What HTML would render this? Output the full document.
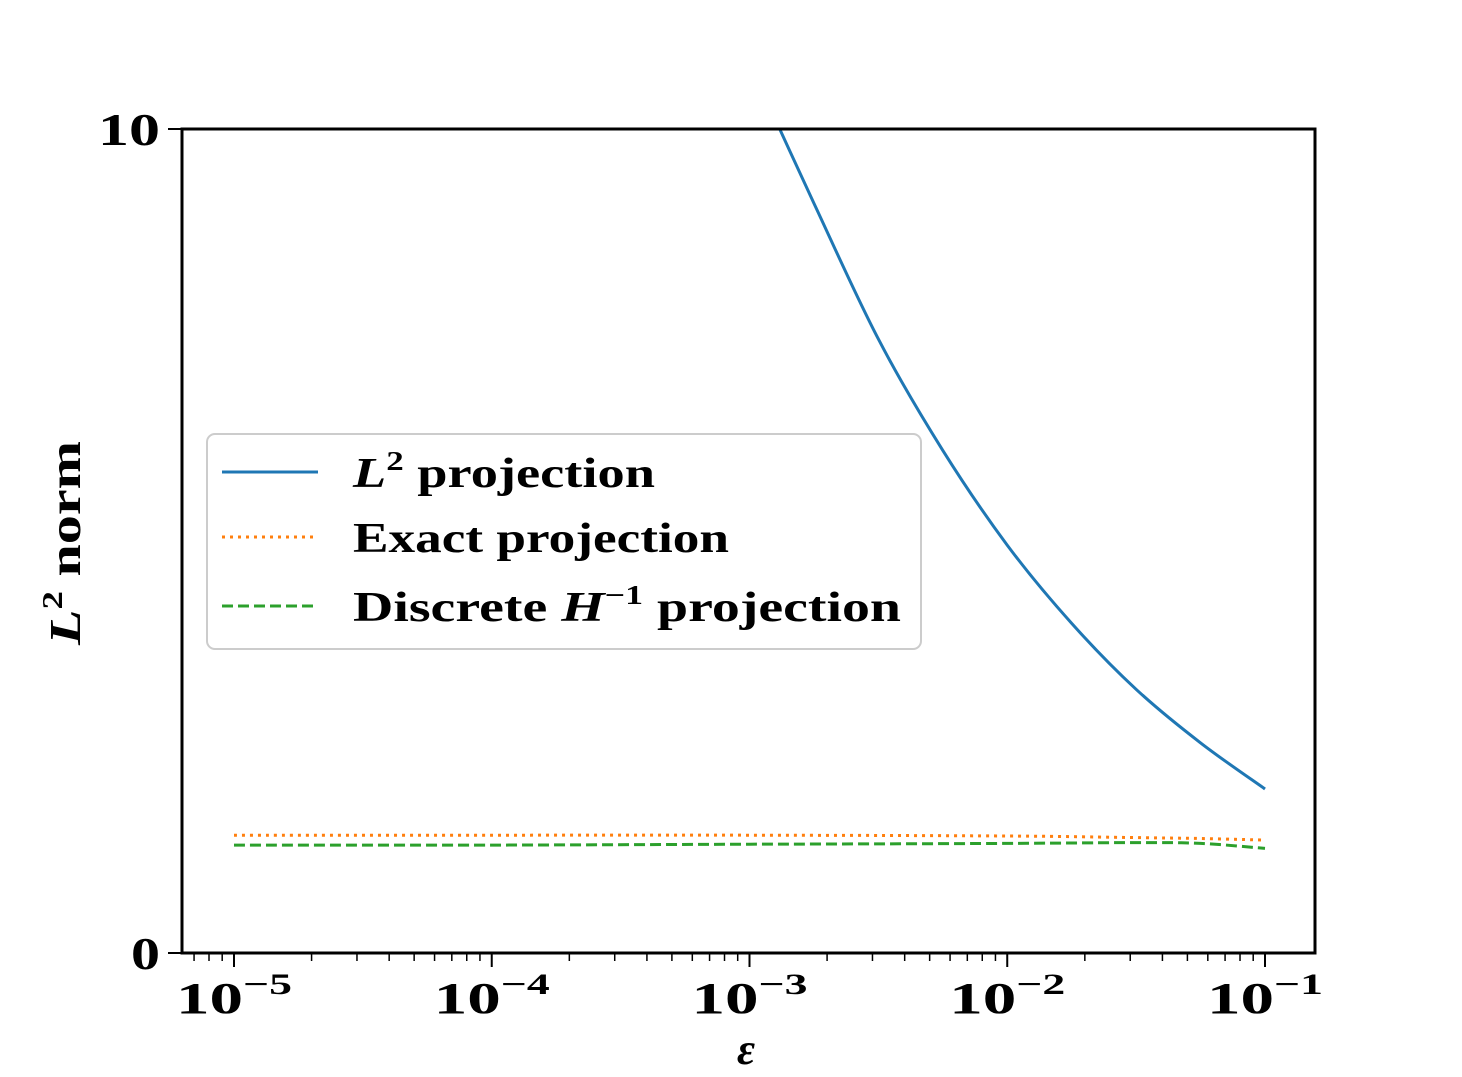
<!DOCTYPE html>
<html><head><meta charset="utf-8"><style>
html,body{margin:0;padding:0;background:#fff;}
svg text{font-family:"Liberation Serif",serif;font-weight:bold;fill:#000;}
</style></head><body>
<svg id="chart" width="1462" height="1072" xmlns="http://www.w3.org/2000/svg">
<defs><clipPath id="plotclip"><rect x="182" y="129" width="1133" height="824"/></clipPath></defs>
<rect x="0" y="0" width="1462" height="1072" fill="#fff"/>
<g id="series" clip-path="url(#plotclip)"></g>
<g id="ticks"></g>
<rect x="182" y="129" width="1133" height="824" fill="none" stroke="#000" stroke-width="3"/>
<text transform="translate(80,543) rotate(-90)" text-anchor="middle" font-size="44" textLength="204" lengthAdjust="spacingAndGlyphs"><tspan font-style="italic">L</tspan><tspan font-size="28" dy="-18">2</tspan><tspan dy="18"> norm</tspan></text>
<text x="746" y="1064" text-anchor="middle" font-size="44" font-style="italic">ε</text>
<g>
<rect x="207" y="434" width="714" height="215" rx="8" fill="#fff" fill-opacity="0.8" stroke="#ccc" stroke-width="2"/>
<line x1="222" y1="472" x2="318" y2="472" stroke="#1f77b4" stroke-width="3"/>
<text x="353" y="487" font-size="42" textLength="302" lengthAdjust="spacingAndGlyphs"><tspan font-style="italic">L</tspan><tspan font-size="27" dy="-17">2</tspan><tspan dy="17"> projection</tspan></text>
<line x1="222" y1="537" x2="318" y2="537" stroke="#ff7f0e" stroke-width="3" stroke-dasharray="3,5"/>
<text x="353" y="552" font-size="42" textLength="376" lengthAdjust="spacingAndGlyphs">Exact projection</text>
<line x1="222" y1="606" x2="318" y2="606" stroke="#2ca02c" stroke-width="3" stroke-dasharray="11,5"/>
<text x="353" y="621" font-size="42" textLength="548" lengthAdjust="spacingAndGlyphs">Discrete <tspan font-style="italic">H</tspan><tspan font-size="27" dy="-17">−1</tspan><tspan dy="17"> projection</tspan></text>
</g>
</svg>
<script>
const l2LogEps = [-3, -2.75, -2.5, -2.25, -2, -1.75, -1.5, -1.25, -1];
const l2Values = [10.8, 9.1, 7.45, 6.1, 4.95, 4.0, 3.2, 2.55, 1.99];
const exactLogEps = [-5, -4, -3, -2, -1.5, -1.25, -1];
const exactValues = [1.43, 1.43, 1.43, 1.42, 1.40, 1.39, 1.37];
const discLogEps = [-5, -4, -3, -2, -1.5, -1.25, -1];
const discValues = [1.31, 1.31, 1.32, 1.33, 1.34, 1.33, 1.27];
const xTickExps = [-5, -4, -3, -2, -1];
const yTickValues = [0, 10];

const X0=182, X1=1315, Y0=953, Y1=129;
const LMIN=-5.2017, LMAX=-0.806;
function xs(l){return X0+(l-LMIN)/(LMAX-LMIN)*(X1-X0);}
function ys(v){return Y0-(v/10)*(Y0-Y1);}
const NS="http://www.w3.org/2000/svg";
const series=document.getElementById('series');
function smoothPath(pts){
  let d='M'+pts[0][0].toFixed(1)+','+pts[0][1].toFixed(1);
  for(let i=0;i<pts.length-1;i++){
    const p0=pts[i-1]||pts[i],p1=pts[i],p2=pts[i+1],p3=pts[i+2]||p2;
    const c1=[p1[0]+(p2[0]-p0[0])/6,p1[1]+(p2[1]-p0[1])/6];
    const c2=[p2[0]-(p3[0]-p1[0])/6,p2[1]-(p3[1]-p1[1])/6];
    d+='C'+c1[0].toFixed(1)+','+c1[1].toFixed(1)+' '+c2[0].toFixed(1)+','+c2[1].toFixed(1)+' '+p2[0].toFixed(1)+','+p2[1].toFixed(1);
  }
  return d;
}
function addLine(lx,vals,color,dash,name){
  const p=document.createElementNS(NS,'path');
  
  
  p.setAttribute('d',smoothPath(lx.map((l,i)=>[xs(l),ys(vals[i])])));
  p.setAttribute('fill','none');p.setAttribute('stroke',color);p.setAttribute('stroke-width','3');
  if(dash)p.setAttribute('stroke-dasharray',dash);
  series.appendChild(p);
}
addLine(l2LogEps,l2Values,'#1f77b4',null,'l2-projection-line');
addLine(exactLogEps,exactValues,'#ff7f0e','3,5','exact-projection-line');
addLine(discLogEps,discValues,'#2ca02c','11,5','discrete-h-1-projection-line');

const ticks=document.getElementById('ticks');
function tick(x1,y1,x2,y2,w){
  const t=document.createElementNS(NS,'line');
  
  
  t.setAttribute('x1',x1);t.setAttribute('y1',y1);t.setAttribute('x2',x2);t.setAttribute('y2',y2);
  t.setAttribute('stroke','#000');t.setAttribute('stroke-width',w);
  ticks.appendChild(t);
}
for(let d=-6;d<=-1;d++){
  for(let m=2;m<=9;m++){
    const l=d+Math.log10(m);
    if(l>LMIN&&l<LMAX) tick(xs(l),Y0,xs(l),Y0+8,1.5);
  }
}
xTickExps.forEach(e=>{
  const x=xs(e);
  tick(x,Y0,x,Y0+14,2);
  const t=document.createElementNS(NS,'text');
  
  
  t.setAttribute('x',x-58);t.setAttribute('y',1013);t.setAttribute('font-size','44');
  t.setAttribute('textLength','116');t.setAttribute('lengthAdjust','spacingAndGlyphs');
  t.innerHTML='10<tspan font-size="30" dy="-19">−'+Math.abs(e)+'</tspan>';
  ticks.appendChild(t);
});
yTickValues.forEach(v=>{
  const y=ys(v);
  tick(X0-14,y,X0,y,2);
  const t=document.createElementNS(NS,'text');
  
  
  t.setAttribute('x',160);t.setAttribute('y',y+16);t.setAttribute('text-anchor','end');t.setAttribute('font-size','46');
  t.setAttribute('textLength', String(v)==='10' ? '62' : '29');t.setAttribute('lengthAdjust','spacingAndGlyphs');
  t.textContent=v;
  ticks.appendChild(t);
});
</script>
</body></html>
